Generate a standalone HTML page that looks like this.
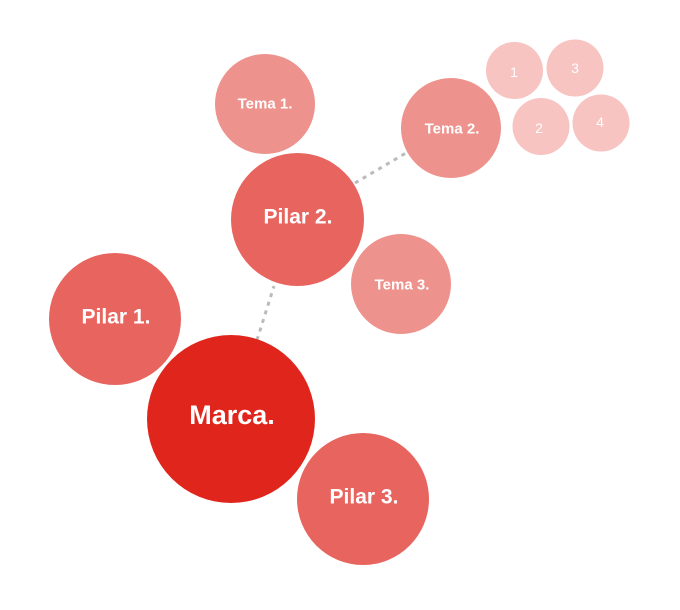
<!DOCTYPE html>
<html><head><meta charset="utf-8"><style>
html,body{margin:0;padding:0;background:#fff;width:680px;height:610px;overflow:hidden}
text{font-family:"Liberation Sans",sans-serif;fill:#fff;text-anchor:middle;dominant-baseline:central;font-weight:600}
</style></head><body>
<svg width="680" height="610" viewBox="0 0 680 610" xmlns="http://www.w3.org/2000/svg">
<g stroke="#bbb" stroke-width="3" stroke-dasharray="4,5" fill="none">
<line x1="257" y1="340" x2="274" y2="286"/>
<line x1="355" y1="183" x2="406" y2="153"/>
</g>
<circle cx="265" cy="104" r="50" fill="#ee928d"/>
<circle cx="451" cy="128" r="50" fill="#ee928d"/>
<circle cx="401" cy="284" r="50" fill="#ee928d"/>
<circle cx="514.5" cy="70.5" r="28.5" fill="#f7c4c2"/>
<circle cx="575" cy="68" r="28.5" fill="#f7c4c2"/>
<circle cx="541" cy="126.5" r="28.5" fill="#f7c4c2"/>
<circle cx="601" cy="123" r="28.5" fill="#f7c4c2"/>
<circle cx="297.5" cy="219.5" r="66.5" fill="#e8655f"/>
<circle cx="115" cy="319" r="66" fill="#e8655f"/>
<circle cx="363" cy="499" r="66" fill="#e8655f"/>
<circle cx="231" cy="419" r="84" fill="#e0261c"/>
<text x="265" y="104" font-size="15">Tema 1.</text>
<text x="452" y="129" font-size="15">Tema 2.</text>
<text x="402" y="285" font-size="15">Tema 3.</text>
<text x="514" y="72" font-size="14" style="font-weight:normal">1</text>
<text x="575" y="68" font-size="14" style="font-weight:normal">3</text>
<text x="539" y="128" font-size="14" style="font-weight:normal">2</text>
<text x="600" y="122" font-size="14" style="font-weight:normal">4</text>
<text x="298" y="217" font-size="21">Pilar 2.</text>
<text x="116" y="317" font-size="21">Pilar 1.</text>
<text x="364" y="497" font-size="21">Pilar 3.</text>
<text x="232" y="415" font-size="27">Marca.</text>
</svg>
</body></html>
